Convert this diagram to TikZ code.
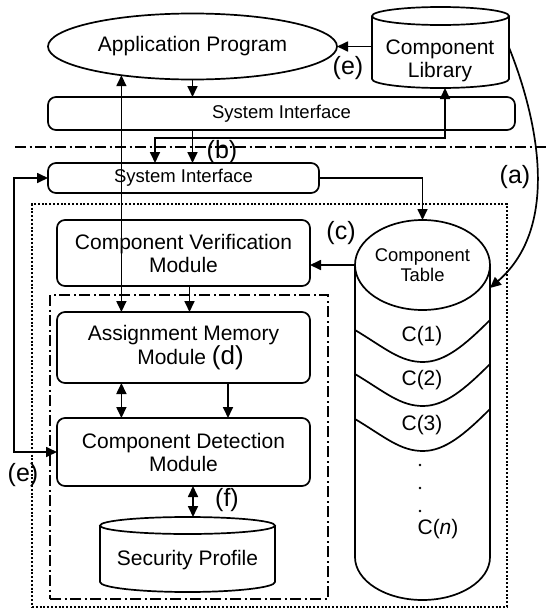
\documentclass[tikz,border=0pt]{standalone}
\usepackage{fontspec}
\setmainfont{Liberation Sans}
\usetikzlibrary{arrows.meta,shapes.geometric,calc}
\begin{document}
\begin{tikzpicture}[x=1pt,y=-1pt,
  every node/.style={inner sep=0pt,outer sep=0pt},
  ln/.style={line width=1.7pt},
  tip/.tip={Triangle[length=11pt,width=10pt]},
  arr/.style={ln,-tip},
  arrb/.style={ln,tip-tip},
  box/.style={draw,ln,rounded corners=8pt,align=center},
  maintxt/.style={font=\fontsize{21}{23}\selectfont,align=center},
  sitxt/.style={font=\fontsize{18.5}{21}\selectfont},
  lbl/.style={font=\fontsize{25}{27}\selectfont},
  dashdot/.style={line width=1.7pt,dash pattern=on 11pt off 3.5pt on 2pt off 3.5pt},
  dotbox/.style={draw,line width=2pt,dash pattern=on 2pt off 1.8pt},
]
\useasboundingbox (0,0) rectangle (547,608);

% ---------- top part ----------
\node[draw,ln,ellipse,minimum width=289pt,minimum height=66pt,maintxt] (ap) at (192.5,46.5) {\raisebox{-4pt}{Application Program}};

% component library (cylinder)
\node[minimum width=137pt,minimum height=81pt] (lib) at (440.5,47.5) {};
\draw[ln] (440.5,16) ellipse[x radius=68.5pt,y radius=9pt];
\draw[ln] (372,16) -- (372,79) arc[start angle=180,end angle=360,x radius=68.5pt,y radius=9pt] -- (509,16);
\node[maintxt] (libtext) at (440,61) {Component\\Library};

\node[box,sitxt,minimum width=467pt,minimum height=33pt] (siTop) at (281.5,113.5) {System Interface};

\coordinate (hl) at (15,147);
\coordinate (hr) at (547,147);
\draw[dashdot] (hl) -- (hr);

\node[box,sitxt,minimum width=271pt,minimum height=30pt] (siLow) at (183.5,178) {System Interface};

% ---------- frames ----------
\node[dotbox,minimum width=475pt,minimum height=403pt] (outer) at (269.5,405.5) {};
\node[draw,dashdot,minimum width=278pt,minimum height=304pt] (inner) at (189,447) {};

% ---------- modules ----------
\node[box,maintxt,minimum width=253pt,minimum height=66pt] (cvm) at (183.5,253) {Component Verification\\Module};
\node[box,maintxt,minimum width=253pt,minimum height=71pt] (amm) at (183.5,347.5) {Assignment Memory\\\hspace*{14pt}Module {\fontsize{26}{23}\selectfont(d)}};
\node[box,maintxt,minimum width=253pt,minimum height=68pt] (cdm) at (183.5,452) {Component Detection\\Module};

% security profile (cylinder)
\node[minimum width=175pt,minimum height=75pt] (sp) at (187.5,554.5) {};
\draw[ln] (187.5,525.5) ellipse[x radius=87.5pt,y radius=8.5pt];
\draw[ln] (100,525.5) -- (100,582) arc[start angle=180,end angle=360,x radius=87.5pt,y radius=10pt] -- (275,525.5);
\node[maintxt] (sptext) at (187.5,560) {Security Profile};

% component table
\node[draw,ln,ellipse,minimum width=135pt,minimum height=90pt,align=center,font=\fontsize{18.4}{20}\selectfont] (tbl) at (422.5,265) {Component\\Table};
\draw[ln] (tbl.west) -- ++(0,292) arc[start angle=180,end angle=360,x radius=67.5pt,y radius=43pt] -- (tbl.east);
\foreach \o in {0,44,89}
  \draw[ln] (355,330+\o) .. controls (385,348+\o) and (400,362+\o) .. (423,362+\o) .. controls (445,362+\o) and (465,345+\o) .. (490,320+\o);
\node[maintxt] (c1) at (422,336) {C(1)};
\node[maintxt] (c2) at (422,380) {C(2)};
\node[maintxt] (c3) at (422,425) {C(3)};
\fill (420,465) circle[radius=1.4pt];
\fill (420,488) circle[radius=1.4pt];
\fill (420,511) circle[radius=1.4pt];
\node[maintxt] (cn) at (438,529) {C(\textit{n})};

% ---------- connectors ----------
\draw[arr] (lib.west |- ap.east) -- (ap.east);
\draw[arr] (ap.south) -- (siTop.north -| ap.south);
\draw[arr] (siTop.south -| ap.south) -- (siLow.north -| ap.south);
\coordinate (lb) at (445,138);
\coordinate (sb) at (155,138);
\draw[arrb] (lib.south -| lb) -- (lb) -- (sb) -- (siLow.north -| sb);
\draw[arrb] (ap.202) -- (amm.north -| ap.202);
\coordinate (lx) at (14,300);
\draw[arrb] (siLow.west) -| (lx) |- (cdm.west);
\draw[arr] (siLow.east) -| (tbl.north);
\draw[arr] (tbl.west) -- (tbl.west -| cvm.east);
\coordinate (vm) at ($(cvm.south)+(6,0)$);
\draw[arr] (vm) -- (vm |- amm.north);
\draw[arrb] (amm.south -| ap.202) -- (cdm.north -| ap.202);
\coordinate (am) at ($(amm.south)+(44.5,0)$);
\draw[arr] (am) -- (am |- cdm.north);
\coordinate (fx) at ($(cdm.south)+(9.5,0)$);
\draw[arrb] (fx) -- (fx |- sp.north);
\draw[arr] (lib.east) .. controls +(21,52) and +(77,-67) .. ($(tbl.east)+(0,23)$);

% ---------- labels ----------
\node[lbl] (le1) at (348,68) {(e)};
\node[lbl] (lb1) at (222,152) {(b)};
\node[lbl] (la) at (515,177) {(a)};
\node[lbl] (lc) at (341,233) {(c)};
\node[lbl] (le2) at (23,475) {(e)};
\node[lbl] (lf) at (227,500) {(f)};
\end{tikzpicture}
\end{document}
